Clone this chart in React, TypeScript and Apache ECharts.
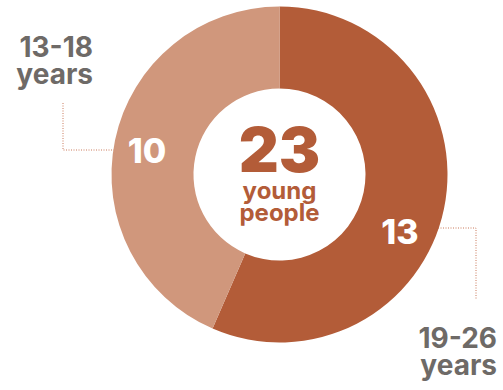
import React, { useEffect, useRef } from "react";
import * as echarts from "echarts";

const categories = ["19-26 years", "13-18 years"];
const values = [13, 10];
const colors = ["#B35C38", "#D0977C"];
const centerCaption = ["young", "people"];

const FONT = "Inter, 'Open Sans', Lato, sans-serif";
const GRAY = "#6E6A67";
const LINE = "#C9785A";

export default function App() {
  const ref = useRef<HTMLDivElement>(null);
  useEffect(() => {
    if (!ref.current) return;
    const chart = echarts.init(ref.current, undefined, { renderer: "svg" });
    const total = values.reduce((a, b) => a + b, 0);
    const labelPos = [
      { x: 400, y: 231 },
      { x: 147, y: 150 },
    ];
    const catText = (x: number, y: number, t: string) => ({
      type: "text",
      x,
      y,
      style: { text: t, align: "right", verticalAlign: "middle", fill: GRAY, font: `700 28px ${FONT}` },
    });
    const centerText = (y: number, t: string, size: number, weight: number) => ({
      type: "text",
      x: 279.5,
      y,
      style: { text: t, align: "center", verticalAlign: "middle", fill: colors[0], font: `${weight} ${size}px ${FONT}` },
    });
    const leftLines = categories[1].split(" ");
    const rightLines = categories[0].split(" ");
    chart.setOption({
      animation: false,
      backgroundColor: "#ffffff",
      series: [
        {
          type: "pie",
          center: [279.5, 174.5],
          radius: [86, 168],
          startAngle: 90,
          clockwise: true,
          silent: true,
          itemStyle: { borderWidth: 0 },
          label: {
            show: true,
            position: "inside",
            formatter: "{c}",
            color: "#ffffff",
            fontFamily: FONT,
            fontWeight: 800,
            fontSize: 34,
          },
          labelLine: { show: false },
          labelLayout: (p: any) => ({ x: labelPos[p.dataIndex].x, y: labelPos[p.dataIndex].y, align: "center", verticalAlign: "middle" }),
          data: categories.map((c, i) => ({ name: c, value: values[i], itemStyle: { color: colors[i] } })),
        },
      ],
      graphic: [
        centerText(149, String(total), 62, 900),
        centerText(190, centerCaption[0], 24, 700),
        centerText(212, centerCaption[1], 24, 700),
        catText(93, 46.5, leftLines[0]),
        catText(93, 74, leftLines[1]),
        catText(497, 337.5, rightLines[0]),
        catText(497, 365, rightLines[1]),
        {
          type: "polyline",
          shape: { points: [[63, 103], [63, 150], [128, 150]] },
          style: { stroke: LINE, lineWidth: 1, lineDash: [1, 1.5], fill: "none" },
        },
        {
          type: "polyline",
          shape: { points: [[438, 228], [476, 228], [476, 300]] },
          style: { stroke: LINE, lineWidth: 1, lineDash: [1, 1.5], fill: "none" },
        },
      ],
    });
    return () => chart.dispose();
  }, []);
  return <div ref={ref} style={{ position: "fixed", left: 0, top: 0, width: 503, height: 390 }} />;
}
